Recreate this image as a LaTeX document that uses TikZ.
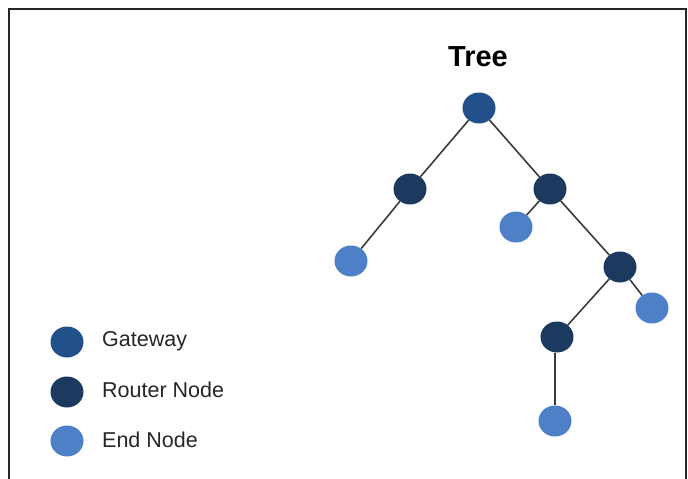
\documentclass[tikz,border=0pt]{standalone}
\usepackage{fontspec}
\setmainfont{Liberation Sans}
\usetikzlibrary{shapes.geometric}
\definecolor{gwcol}{HTML}{22508A}
\definecolor{rtcol}{HTML}{1C3A60}
\definecolor{endcol}{HTML}{4D80C6}
\definecolor{edgecol}{HTML}{3A3A3A}
\begin{document}
\begin{tikzpicture}[x=1pt,y=-1pt,
  dot/.style={ellipse,minimum width=33pt,minimum height=31pt,inner sep=0pt,draw=none},
  gw/.style={dot,fill=gwcol},
  rt/.style={dot,fill=rtcol},
  en/.style={dot,fill=endcol},
  link/.style={draw=edgecol,line width=1.6pt},
  lbl/.style={anchor=west,inner sep=0pt,font=\fontsize{21.5}{25}\selectfont,text=black!85}]
\useasboundingbox (0,0) rectangle (688,479);
\draw[line width=2pt,black!85] (9,479) -- (9,9) -- (686,9) -- (686,479);
\node[font=\bfseries\fontsize{29}{34}\selectfont] (title) at (478,57) {Tree};
\node[gw] (g) at (479,108) {};
\node[rt] (r1) at (410,189) {};
\node[rt] (r2) at (550,189) {};
\node[en] (e1) at (351,261) {};
\node[en] (e2) at (516,227) {};
\node[rt] (r3) at (620,267) {};
\node[en] (e3) at (652,308) {};
\node[rt] (r4) at (557,337) {};
\node[en] (e4) at (555,421) {};
\draw[link] (g) -- (r1);
\draw[link] (g) -- (r2);
\draw[link] (r1) -- (e1);
\draw[link] (r2) -- (e2);
\draw[link] (r2) -- (r3);
\draw[link] (r3) -- (e3);
\draw[link] (r3) -- (r4);
\draw[link,line width=2.4pt] (r4.south -| e4) -- (e4);
\node[gw] (lg) at (67,342) {};
\node[rt] (lr) at (67,392) {};
\node[en] (le) at (67,441) {};
\node[lbl] (tg) at (102,341) {Gateway};
\node[lbl] (tr) at (102,390) {Router Node};
\node[lbl] (te) at (102,440) {End Node};
\end{tikzpicture}
\end{document}
